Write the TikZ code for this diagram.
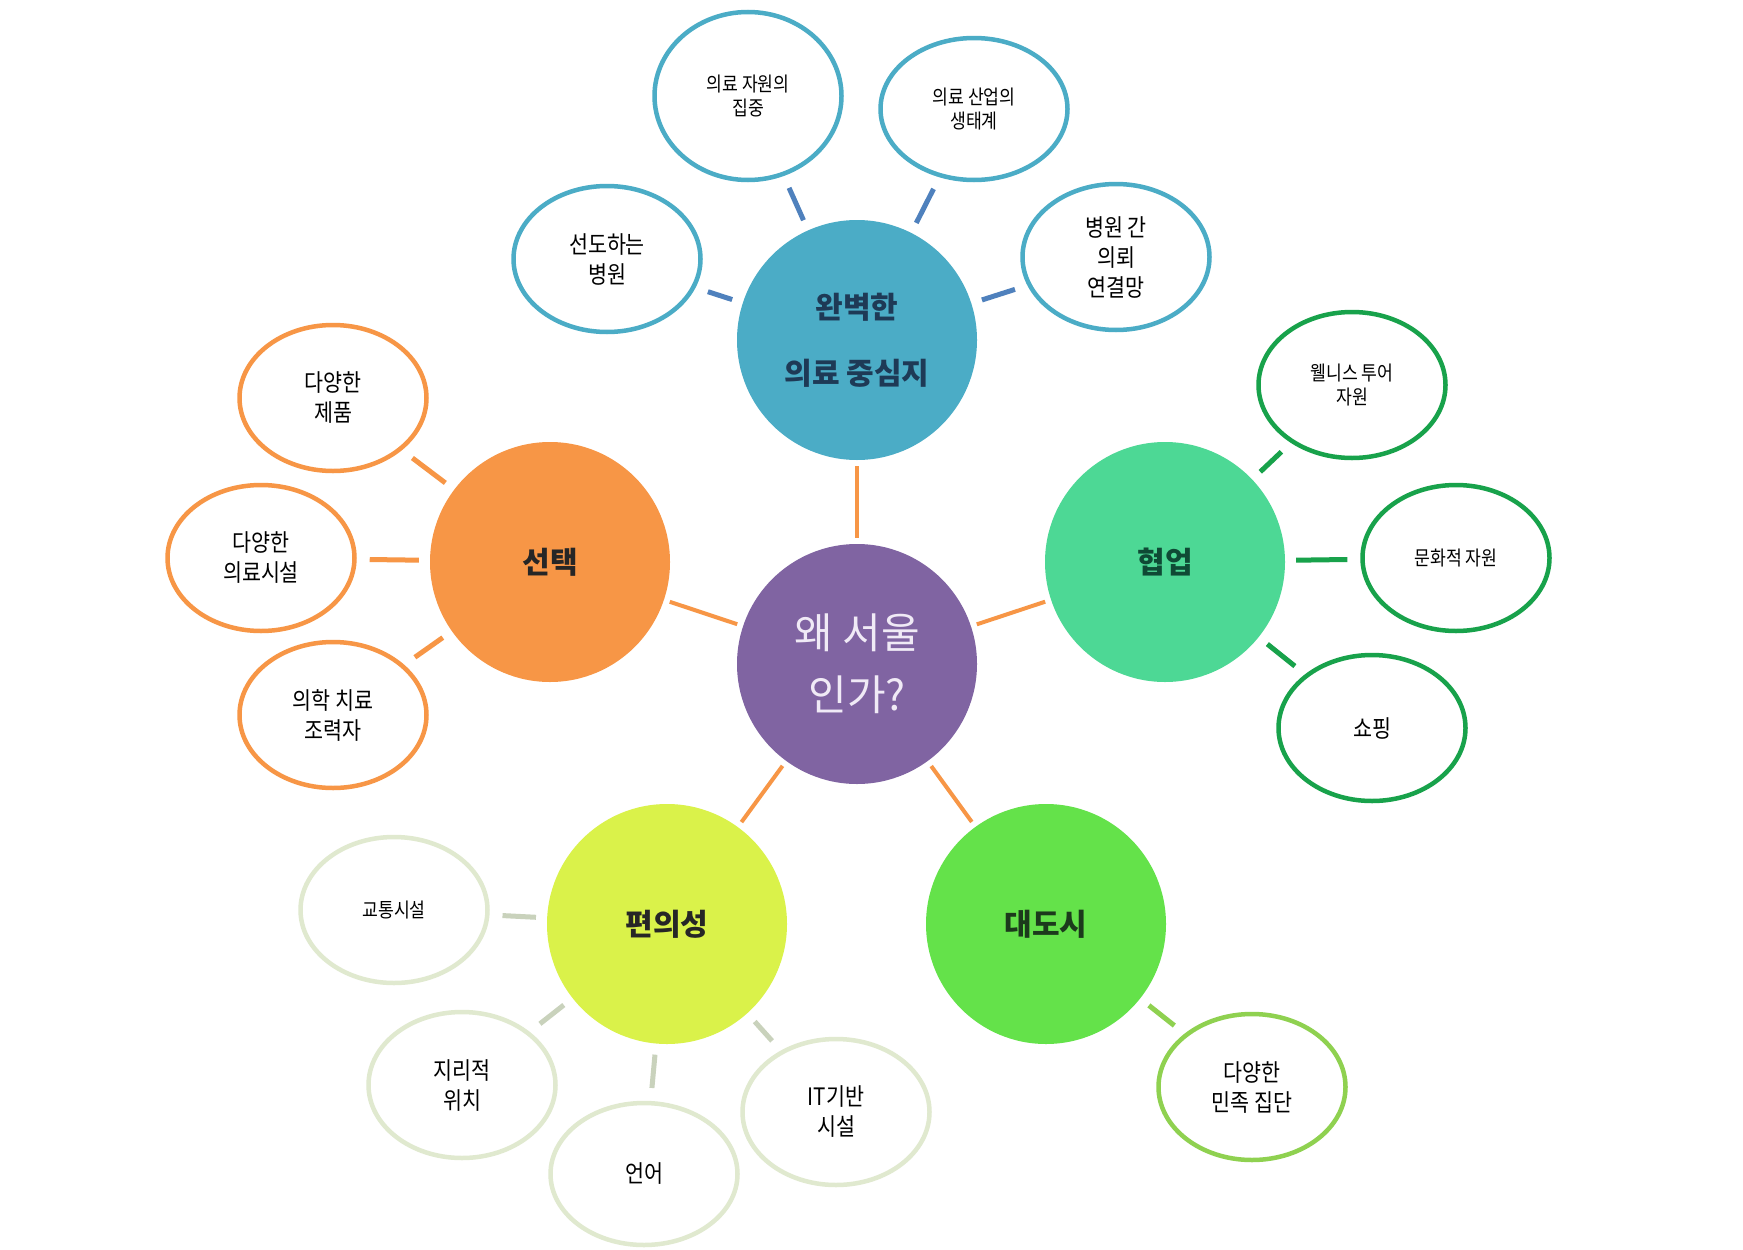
\documentclass[tikz,border=0pt]{standalone}
\usepackage{fontspec}
\setmainfont{Noto Sans CJK KR}
\newfontfamily\krn{Noto Sans CJK KR}[FakeStretch=0.86]
\usetikzlibrary{shapes.geometric}
\definecolor{cpurple}{HTML}{8064A2}
\definecolor{cpurtxt}{HTML}{F0EAF6}
\definecolor{cblue}{HTML}{4BACC6}
\definecolor{cbluetxt}{HTML}{1E3A56}
\definecolor{cblueln}{HTML}{4F81BD}
\definecolor{corange}{HTML}{F79646}
\definecolor{cmint}{HTML}{4DD895}
\definecolor{cminttxt}{HTML}{0F4A35}
\definecolor{cgreen}{HTML}{18A24B}
\definecolor{clime}{HTML}{DAF24A}
\definecolor{cpale}{HTML}{E0E9CF}
\definecolor{cpaleln}{HTML}{C9D2BC}
\definecolor{cbright}{HTML}{64E24A}
\definecolor{cbrighttxt}{HTML}{1C3A1C}
\definecolor{cleaf}{HTML}{8FD150}
\definecolor{cdark}{HTML}{262626}
\tikzset{
  hub/.style={circle, minimum size=240pt, inner sep=0pt, align=center,
    font=\bfseries\fontsize{30}{66}\selectfont},
  sat/.style={ellipse, minimum width=187pt, minimum height=146pt, inner sep=0pt,
    line width=4.5pt, fill=white, align=center, text=black,
    font=\krn\fontsize{24}{30}\selectfont},
  satsmall/.style={font=\krn\fontsize{20}{24.5}\selectfont},
  lnk/.style={line width=5pt, shorten <=13pt, shorten >=11pt},
  spoke/.style={line width=4pt, draw=corange, shorten <=6pt, shorten >=6pt}
}
\begin{document}
\begin{tikzpicture}[x=1pt,y=-1pt]
\useasboundingbox[fill=white] (0,0) rectangle (1743,1250);

% hubs
\node[hub, fill=cpurple, text=cpurtxt, font=\fontsize{42}{62}\selectfont] (why) at (857,664) {왜 서울\\인가?};
\node[hub, fill=cblue, text=cbluetxt] (med) at (857,340) {완벽한\\의료 중심지};
\node[hub, fill=corange, text=cdark] (cho) at (550,562) {선택};
\node[hub, fill=cmint, text=cminttxt] (col) at (1165,562) {협업};
\node[hub, fill=clime, text=cdark] (con) at (667,924) {편의성};
\node[hub, fill=cbright, text=cbrighttxt] (met) at (1046,924) {대도시};

% spokes
\draw[spoke] (why) -- (med);
\draw[spoke] (why) -- (cho);
\draw[spoke] (why) -- (col);
\draw[spoke] (why) -- (con);
\draw[spoke] (why) -- (met);

% blue satellites
\node[sat, draw=cblue] (b1) at (607,259) {선도하는\\병원};
\node[sat, satsmall, draw=cblue, minimum height=168pt] (b2) at (748,96) {의료 자원의\\집중};
\node[sat, satsmall, draw=cblue, minimum height=142pt] (b3) at (974,109) {의료 산업의\\생태계};
\node[sat, draw=cblue] (b4) at (1116,257) {병원 간\\의뢰\\연결망};
\foreach \s in {b1,b2,b3,b4} \draw[lnk, draw=cblueln] (\s) -- (med);

% orange satellites
\node[sat, draw=corange] (o1) at (333,398) {다양한\\제품};
\node[sat, draw=corange] (o2) at (261,558) {다양한\\의료시설};
\node[sat, draw=corange] (o3) at (333,715) {의학 치료\\조력자};
\foreach \s in {o1,o2,o3} \draw[lnk, draw=corange] (\s) -- (cho);

% green satellites
\node[sat, satsmall, draw=cgreen] (g1) at (1352,385) {웰니스 투어\\자원};
\node[sat, satsmall, draw=cgreen] (g2) at (1456,558) {문화적 자원};
\node[sat, draw=cgreen] (g3) at (1372,728) {쇼핑};
\foreach \s in {g1,g2,g3} \draw[lnk, draw=cgreen] (\s) -- (col);

% pale satellites
\node[sat, satsmall, draw=cpale] (p1) at (394,910) {교통시설};
\node[sat, draw=cpale] (p2) at (462,1085) {지리적\\위치};
\node[sat, draw=cpale, minimum height=142pt] (p3) at (644,1174) {언어};
\node[sat, draw=cpale] (p4) at (836,1112) {IT기반\\시설};
\foreach \s in {p1,p2,p3,p4} \draw[lnk, draw=cpaleln] (\s) -- (con);

% metropolis satellite
\node[sat, draw=cleaf] (m1) at (1252,1087) {다양한\\민족 집단};
\draw[lnk, draw=cleaf] (m1) -- (met);
\end{tikzpicture}
\end{document}
